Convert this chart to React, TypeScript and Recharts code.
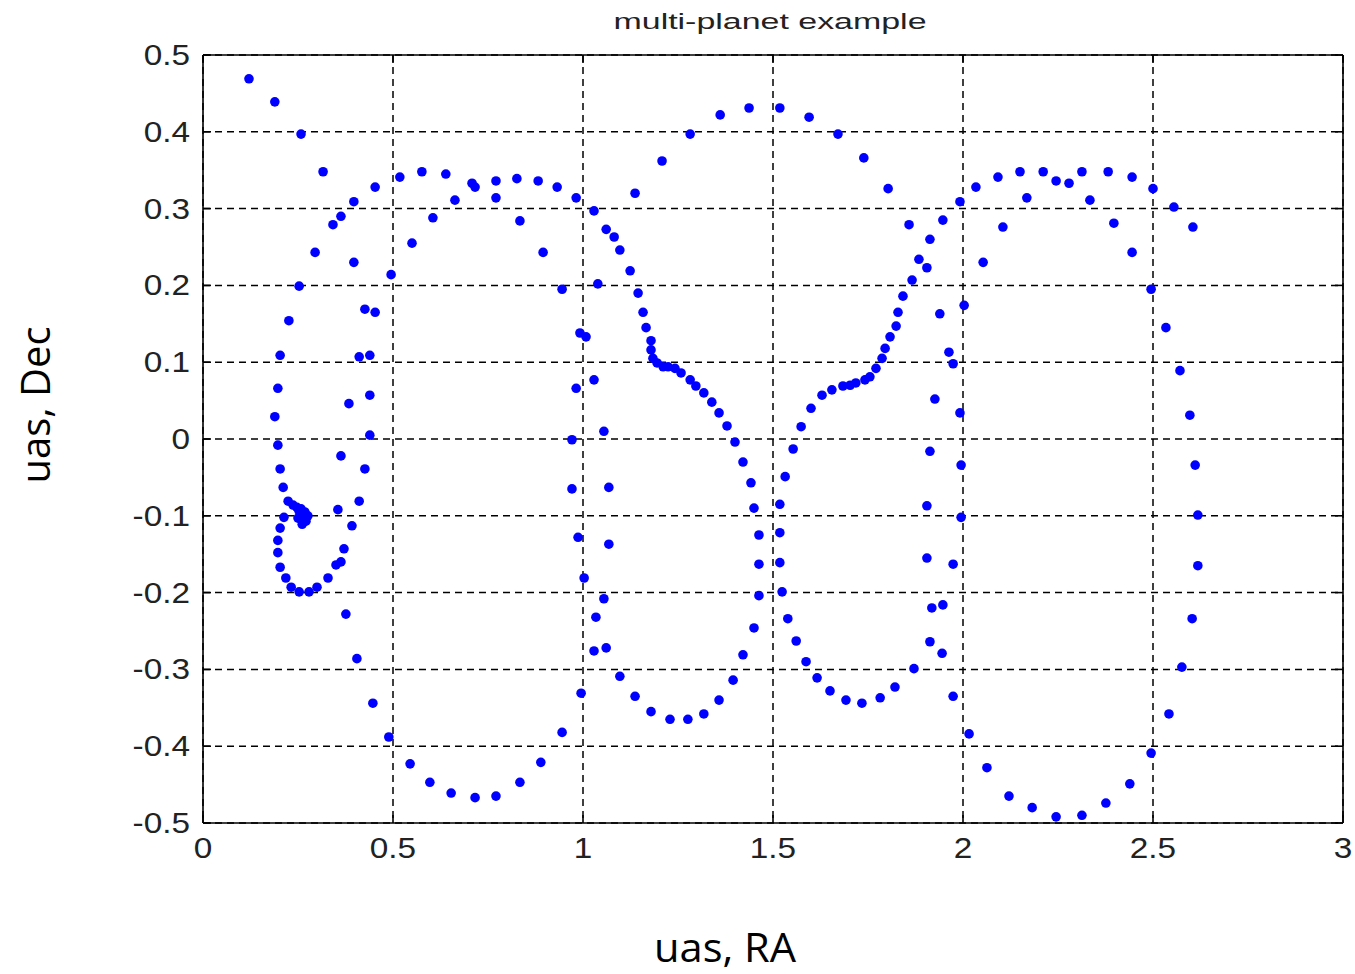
import React, { useLayoutEffect } from "react";
import { ScatterChart, Scatter, XAxis, YAxis, CartesianGrid, ReferenceLine } from "recharts";

// Astrometric track: right ascension offset (uas) vs declination offset (uas)
const leftLoop: [number, number][] = [
  [0.121, 0.469], [0.189, 0.439], [0.258, 0.397], [0.316, 0.348], [0.453, 0.328],
  [0.397, 0.309], [0.363, 0.29], [0.342, 0.279], [0.295, 0.243], [0.397, 0.23],
  [0.253, 0.199], [0.495, 0.214], [0.426, 0.169], [0.453, 0.165], [0.226, 0.154],
  [0.203, 0.109], [0.197, 0.066], [0.189, 0.029], [0.197, -0.008], [0.203, -0.039],
  [0.211, -0.063], [0.224, -0.081], [0.213, -0.102], [0.203, -0.116], [0.197, -0.132],
  [0.197, -0.148], [0.203, -0.167], [0.218, -0.181], [0.232, -0.193], [0.253, -0.199],
  [0.279, -0.199], [0.3, -0.193], [0.329, -0.181], [0.35, -0.164], [0.363, -0.16],
  [0.371, -0.143], [0.392, -0.113], [0.355, -0.092], [0.411, -0.081], [0.426, -0.039],
  [0.363, -0.022], [0.439, 0.005], [0.384, 0.046], [0.439, 0.057], [0.411, 0.107],
  [0.439, 0.109], [0.376, -0.228], [0.405, -0.286], [0.447, -0.344], [0.489, -0.388],
];

const spiralCore: [number, number][] = [
  [0.237, -0.086], [0.247, -0.089], [0.258, -0.091], [0.268, -0.095], [0.276, -0.1],
  [0.271, -0.107], [0.261, -0.111], [0.25, -0.103], [0.263, -0.098], [0.253, -0.094],
];

const firstLoop: [number, number][] = [
  [0.518, 0.341], [0.576, 0.348], [0.639, 0.345], [0.708, 0.333], [0.716, 0.328],
  [0.771, 0.336], [0.826, 0.339], [0.882, 0.336], [0.932, 0.328], [0.982, 0.314],
  [0.663, 0.311], [0.771, 0.314], [0.605, 0.288], [0.834, 0.284], [0.55, 0.255],
  [0.895, 0.243], [0.945, 0.195], [0.992, 0.138], [1.008, 0.133], [0.982, 0.066],
  [0.971, -0.001], [0.971, -0.065], [0.987, -0.128], [1.003, -0.181], [0.995, -0.331],
  [0.545, -0.423], [0.597, -0.447], [0.653, -0.461], [0.716, -0.467], [0.771, -0.465],
  [0.834, -0.447], [0.889, -0.421], [0.945, -0.382],
];

const centralLoop: [number, number][] = [
  [1.029, 0.297], [1.061, 0.273], [1.082, 0.263], [1.097, 0.246], [1.124, 0.219],
  [1.039, 0.202], [1.145, 0.19], [1.158, 0.165], [1.166, 0.145], [1.179, 0.128],
  [1.179, 0.116], [1.184, 0.105], [1.195, 0.099], [1.211, 0.094], [1.224, 0.094],
  [1.242, 0.092], [1.258, 0.086], [1.282, 0.077], [1.297, 0.069], [1.318, 0.06],
  [1.339, 0.048], [1.358, 0.034], [1.379, 0.017], [1.4, -0.004], [1.421, -0.03],
  [1.442, -0.057], [1.45, -0.09], [1.463, -0.125], [1.463, -0.163], [1.463, -0.204],
  [1.45, -0.246], [1.421, -0.281], [1.395, -0.314], [1.358, -0.34], [1.318, -0.358],
  [1.276, -0.365], [1.229, -0.365], [1.179, -0.355], [1.137, -0.335], [1.097, -0.309],
  [1.061, -0.272], [1.029, -0.276], [1.034, -0.232], [1.055, -0.208], [1.029, 0.077],
  [1.055, 0.01], [1.068, -0.063], [1.068, -0.137], [1.137, 0.32], [1.208, 0.362],
  [1.282, 0.397], [1.361, 0.422], [1.437, 0.431], [1.518, 0.431], [1.595, 0.419],
  [1.671, 0.397], [1.739, 0.366], [1.803, 0.326],
];

const secondLoop: [number, number][] = [
  [1.829, 0.165], [1.824, 0.147], [1.808, 0.133], [1.795, 0.118], [1.787, 0.105],
  [1.771, 0.092], [1.755, 0.081], [1.742, 0.077], [1.718, 0.073], [1.703, 0.07],
  [1.684, 0.069], [1.655, 0.064], [1.629, 0.057], [1.6, 0.04], [1.574, 0.016],
  [1.553, -0.013], [1.532, -0.049], [1.518, -0.085], [1.518, -0.122], [1.518, -0.161],
  [1.524, -0.199], [1.539, -0.234], [1.561, -0.263], [1.587, -0.29], [1.616, -0.311],
  [1.65, -0.328], [1.692, -0.34], [1.734, -0.344], [1.782, -0.337], [1.821, -0.323],
  [1.871, -0.299], [1.913, -0.264], [1.945, -0.279], [1.918, -0.22], [1.947, -0.216],
  [1.974, -0.335], [1.974, -0.163], [1.905, -0.155], [1.905, -0.087], [1.995, -0.102],
  [1.913, -0.016], [1.995, -0.034], [1.926, 0.052], [1.992, 0.034], [1.963, 0.113],
  [1.974, 0.098], [1.939, 0.163], [1.842, 0.186], [1.866, 0.207], [1.905, 0.223],
  [1.884, 0.234], [1.913, 0.26], [1.858, 0.279], [1.947, 0.285], [1.992, 0.309],
  [2.003, 0.174],
];

const rightLoop: [number, number][] = [
  [2.034, 0.328], [2.092, 0.341], [2.15, 0.348], [2.211, 0.348], [2.245, 0.336],
  [2.279, 0.333], [2.313, 0.348], [2.382, 0.348], [2.445, 0.341], [2.5, 0.326],
  [2.555, 0.302], [2.605, 0.276], [2.168, 0.314], [2.334, 0.311], [2.105, 0.276],
  [2.397, 0.281], [2.053, 0.23], [2.445, 0.243], [2.495, 0.195], [2.534, 0.145],
  [2.571, 0.089], [2.597, 0.031], [2.611, -0.034], [2.618, -0.099], [2.618, -0.165],
  [2.603, -0.234], [2.576, -0.297], [2.542, -0.358], [2.495, -0.409], [2.439, -0.449],
  [2.376, -0.474], [2.313, -0.49], [2.245, -0.492], [2.182, -0.48], [2.121, -0.465],
  [2.063, -0.428], [2.016, -0.384],
];

const raTicks = [0, 0.5, 1, 1.5, 2, 2.5, 3];
const decTicks = [-0.5, -0.4, -0.3, -0.2, -0.1, 0, 0.1, 0.2, 0.3, 0.4, 0.5];

const track = [...leftLoop, ...spiralCore, ...firstLoop, ...centralLoop, ...secondLoop, ...rightLoop].map(
  ([ra, dec]) => ({ ra, dec })
);

// chart frame
const W = 1347;
const H = 966;
const MARGIN = { top: 47, right: 12, bottom: 91, left: 135 };
const X_AXIS_H = 60;
const Y_AXIS_W = 60;
const PLOT_TOP = MARGIN.top;
const PLOT_BOTTOM = H - MARGIN.bottom - X_AXIS_H;
const PLOT_LEFT = MARGIN.left + Y_AXIS_W;
const PLOT_RIGHT = W - MARGIN.right;
const INNER_TICK = 8;
const X_LABEL_GAP = 25;
const Y_LABEL_GAP = 13;

const TICK_FONT = "'Liberation Sans', Arial, sans-serif";
const TICK_SIZE = 29;
const GLYPH: Record<string, number> = { ".": 0.278, "-": 0.333 };
const labelWidth = (s: string) =>
  s.split("").reduce((w, c) => w + (GLYPH[c] ?? 0.556), 0) * TICK_SIZE * 1.15;

const Label = ({ x, y, s, anchor }: { x: number; y: number; s: string; anchor: string }) => (
  <text
    x={x}
    y={y}
    textAnchor={anchor as any}
    dominantBaseline="central"
    fontFamily={TICK_FONT}
    fontSize={TICK_SIZE}
    fill="#222"
    textLength={labelWidth(s)}
    lengthAdjust="spacingAndGlyphs"
  >
    {s}
  </text>
);

// RA tick: label below the frame plus inward tick marks on the bottom and top edges
const RaTick = ({ x, y, payload }: any) => {
  const s = String(payload.value);
  return (
    <g>
      <line x1={x} x2={x} y1={PLOT_BOTTOM} y2={PLOT_BOTTOM - INNER_TICK} stroke="#000" strokeWidth={1.6} />
      <line x1={x} x2={x} y1={PLOT_TOP} y2={PLOT_TOP + INNER_TICK} stroke="#000" strokeWidth={1.6} />
      <Label x={x} y={y} s={s} anchor="middle" />
    </g>
  );
};

// Dec tick: label left of the frame plus inward tick marks on the left and right edges
const DecTick = ({ x, y, payload }: any) => {
  const s = String(payload.value);
  return (
    <g>
      <line x1={PLOT_LEFT} x2={PLOT_LEFT + INNER_TICK} y1={y} y2={y} stroke="#000" strokeWidth={1.6} />
      <line x1={PLOT_RIGHT} x2={PLOT_RIGHT - INNER_TICK} y1={y} y2={y} stroke="#000" strokeWidth={1.6} />
      <Label x={x} y={y} s={s} anchor="end" />
    </g>
  );
};

const Dot = (props: any) => <circle cx={props.cx} cy={props.cy} r={4.8} fill="#0000ff" />;

export default function App() {
  // the figure spans the whole window: no right body margin, no scrollbars
  useLayoutEffect(() => {
    document.documentElement.style.overflow = "hidden";
    document.body.style.marginRight = "0px";
    document.body.style.marginBottom = "0px";
  }, []);

  return (
    <div style={{ position: "relative", width: W, height: H }}>
      <ScatterChart width={W} height={H} margin={MARGIN} style={{ overflow: "visible" }}>
        <CartesianGrid stroke="#000" strokeDasharray="7 5" strokeWidth={1.5} />
        <ReferenceLine y={0.5} stroke="#000" strokeWidth={1.6} />
        <ReferenceLine x={3} stroke="#000" strokeWidth={1.6} />
        <XAxis
          dataKey="ra"
          type="number"
          domain={[0, 3]}
          ticks={raTicks}
          allowDataOverflow
          height={X_AXIS_H}
          tickLine={false}
          tickSize={0}
          tickMargin={X_LABEL_GAP}
          axisLine={{ stroke: "#000", strokeWidth: 1.6 }}
          tick={RaTick}
        />
        <YAxis
          dataKey="dec"
          type="number"
          domain={[-0.5, 0.5]}
          ticks={decTicks}
          allowDataOverflow
          width={Y_AXIS_W}
          tickLine={false}
          tickSize={0}
          tickMargin={Y_LABEL_GAP}
          axisLine={{ stroke: "#000", strokeWidth: 1.6 }}
          tick={DecTick}
        />
        <Scatter data={track} shape={Dot} isAnimationActive={false} />
      </ScatterChart>
      <svg
        width={W}
        height={H}
        style={{ position: "absolute", left: 0, top: 0, pointerEvents: "none" }}
      >
        <text
          x={762}
          y={21}
          textAnchor="middle"
          fontFamily={TICK_FONT}
          fontSize={22}
          fill="#222"
          textLength={313}
          lengthAdjust="spacingAndGlyphs"
        >
          multi-planet example
        </text>
        <text
          x={717}
          y={954}
          textAnchor="middle"
          fontFamily="'Open Sans', 'Noto Sans', sans-serif"
          fontSize={40}
          fill="#000"
          textLength={142}
          lengthAdjust="spacingAndGlyphs"
        >
          uas, RA
        </text>
        <text
          x={42}
          y={397}
          transform="rotate(-90 42 397)"
          textAnchor="middle"
          fontFamily="'Open Sans', 'Noto Sans', sans-serif"
          fontSize={40}
          fill="#000"
        >
          uas, Dec
        </text>
      </svg>
    </div>
  );
}
